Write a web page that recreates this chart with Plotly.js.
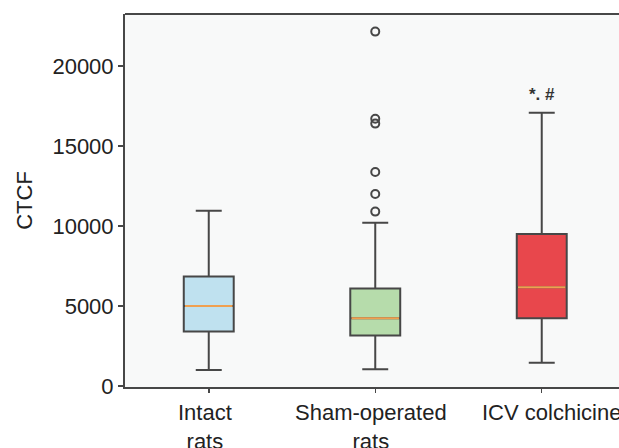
<!DOCTYPE html>
<html>
<head>
<meta charset="utf-8">
<script src="https://cdn.plot.ly/plotly-3.0.1.min.js"></script>
<style>html,body{margin:0;padding:0;background:#fff;}#chart{width:619px;height:448px;}</style>
</head>
<body>
<div id="chart"></div>
<script>
// Data
const categories = ['Intact<br>rats', 'Sham-operated<br>rats', 'ICV colchicine'];
const lowerWhisker = [1000, 1050, 1450];
const q1Values = [3400, 3150, 4230];
const medianValues = [5000, 4230, 6170];
const q3Values = [6850, 6100, 9500];
const upperWhisker = [10950, 10200, 17080];
const shamOutliers = [10900, 12000, 13380, 16400, 16700, 22150];
const fillColors = ['#bfe1ef', '#b6dcab', '#e8474c'];
const yTicks = [0, 5000, 10000, 15000, 20000];
const significanceLabel = '*. #';
const labelShifts = [-4, -4, 10];

const traces = [];
categories.forEach((c, i) => {
  traces.push({
    type: 'box', x: [c],
    q1: [q1Values[i]], median: [medianValues[i]], q3: [q3Values[i]],
    lowerfence: [lowerWhisker[i]], upperfence: [upperWhisker[i]],
    width: 0.3, whiskerwidth: 0.52,
    fillcolor: fillColors[i],
    line: {color: '#474747', width: 2},
    boxpoints: false, hoverinfo: 'skip', showlegend: false
  });
  traces.push({
    type: 'box', x: [c],
    q1: [medianValues[i]], median: [medianValues[i]], q3: [medianValues[i]],
    lowerfence: [medianValues[i]], upperfence: [medianValues[i]],
    width: 0.285, whiskerwidth: 0,
    fillcolor: 'rgba(0,0,0,0)',
    line: {color: '#f0a050', width: 2},
    boxpoints: false, hoverinfo: 'skip', showlegend: false
  });
});
traces.push({
  type: 'scatter', mode: 'markers',
  x: shamOutliers.map(() => categories[1]), y: shamOutliers,
  marker: {symbol: 'circle-open', size: 8, color: '#474747', line: {width: 2, color: '#474747'}},
  hoverinfo: 'skip', showlegend: false
});

const catAnnotations = categories.map((c, i) => ({
  x: c, y: 0, xref: 'x', yref: 'paper',
  text: c, showarrow: false, yanchor: 'top', xanchor: 'center',
  xshift: labelShifts[i], yshift: -11,
  font: {size: 22, color: '#222'}
}));

const layout = {
  width: 619, height: 448,
  margin: {l: 125, r: 0, t: 14, b: 61},
  paper_bgcolor: '#ffffff',
  plot_bgcolor: '#f8f9f9',
  boxmode: 'overlay',
  font: {family: '"Liberation Sans", Arial, sans-serif', size: 22, color: '#222'},
  xaxis: {
    type: 'category', categoryarray: categories,
    range: [-0.503, 2.464],
    showline: true, linecolor: '#474747', linewidth: 2,
    ticks: 'outside', ticklen: 4, tickcolor: '#474747', tickwidth: 1.5,
    showticklabels: false,
    showgrid: false, zeroline: false, fixedrange: true
  },
  yaxis: {
    range: [-62, 23250],
    tickvals: yTicks, ticktext: yTicks.map(String),
    showline: true, linecolor: '#474747', linewidth: 2,
    ticks: 'outside', ticklen: 5, tickcolor: '#474747', tickwidth: 1.5,
    showgrid: false, zeroline: false,
    title: {text: 'CTCF', font: {size: 22}, standoff: 14}
  },
  shapes: [{type: 'line', xref: 'paper', yref: 'paper', x0: 0, x1: 1, y0: 1, y1: 1,
            line: {color: '#474747', width: 2}}],
  annotations: [{
    x: categories[2], y: upperWhisker[2], xref: 'x', yref: 'y',
    text: '<b>' + significanceLabel + '</b>', showarrow: false,
    yanchor: 'bottom', yshift: 7,
    font: {size: 17, color: '#333'}
  }].concat(catAnnotations)
};

Plotly.newPlot('chart', traces, layout, {staticPlot: true, displayModeBar: false});
</script>
</body>
</html>
